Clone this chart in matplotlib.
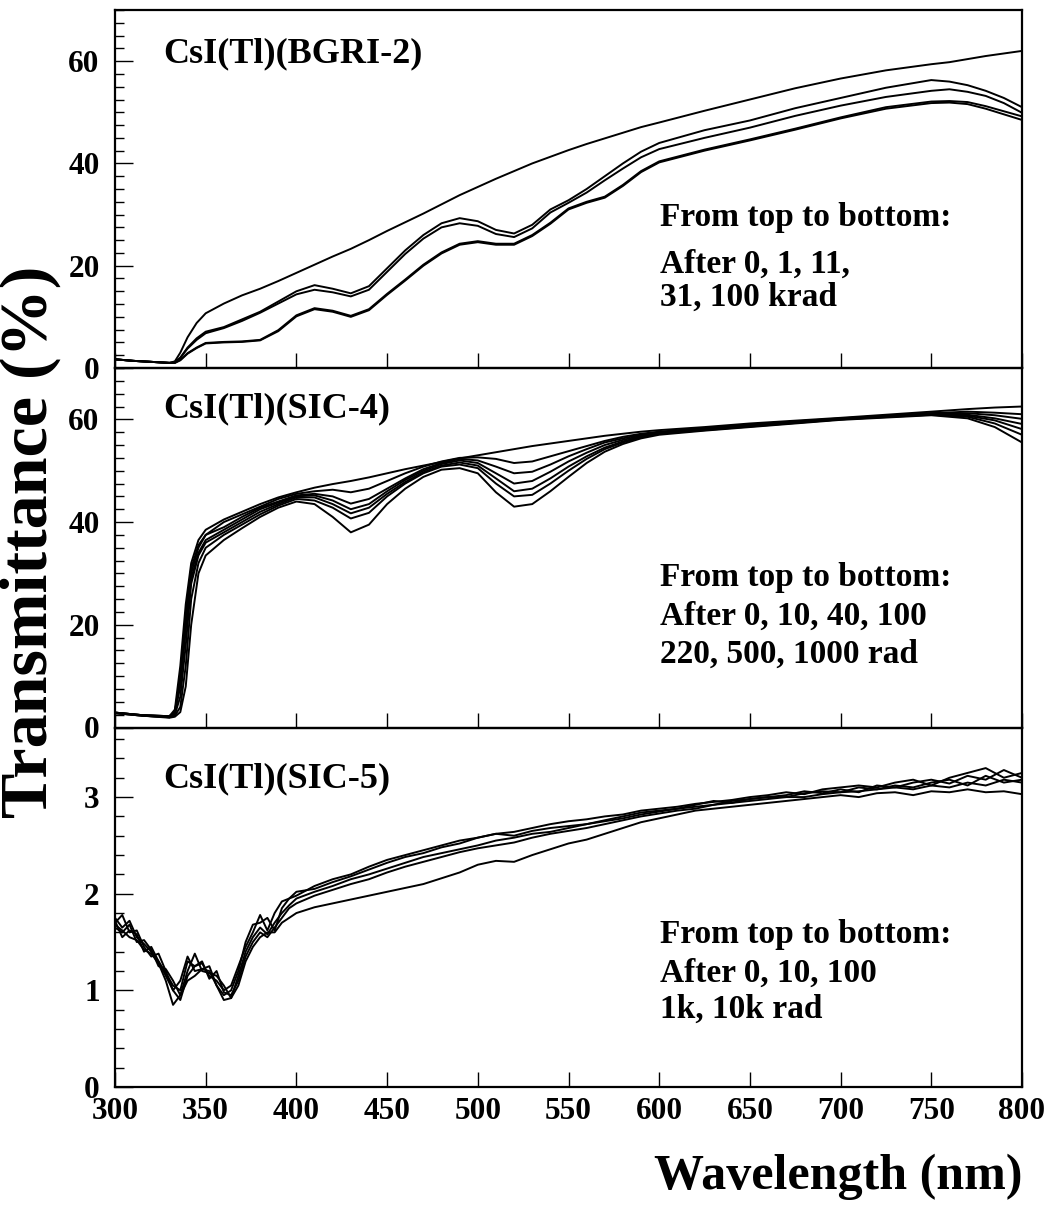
import matplotlib
matplotlib.use('Agg')
import matplotlib.pyplot as plt
from matplotlib.ticker import MultipleLocator

plt.rcParams['font.family'] = ['Liberation Serif', 'DejaVu Serif']
plt.rcParams['font.weight'] = 'bold'

# ---------------- data: top panel CsI(Tl)(BGRI-2) ----------------
wl_bgri = [300, 310, 320, 330, 333, 336, 340, 345, 350, 360, 370, 380, 390, 400, 410, 420, 430, 440,
           450, 460, 470, 480, 490, 500, 510, 520, 530, 540, 550, 560, 570, 580, 590, 600, 625, 650,
           675, 700, 725, 750, 760, 770, 780, 790, 800]
bgri_0k = [1.7, 1.4, 1.2, 1.0, 1.3, 3.0, 6.0, 8.8, 10.7, 12.6, 14.2, 15.5, 17.0, 18.6, 20.2, 21.8, 23.3, 25.0,
           26.8, 28.5, 30.2, 32.0, 33.8, 35.4, 37.0, 38.5, 40.0, 41.3, 42.6, 43.8, 44.9, 46.0, 47.1, 48.0, 50.3, 52.5,
           54.7, 56.6, 58.2, 59.4, 59.8, 60.4, 61.0, 61.5, 62.0]
bgri_1k = [1.7, 1.4, 1.2, 1.0, 1.1, 2.0, 4.0, 5.8, 7.1, 8.0, 9.5, 11.0, 13.0, 15.0, 16.2, 15.5, 14.6, 16.0,
           19.5, 23.0, 26.0, 28.3, 29.3, 28.7, 27.0, 26.3, 28.0, 31.0, 32.8, 35.0, 37.5, 40.0, 42.3, 44.0, 46.5, 48.4,
           50.8, 52.8, 54.8, 56.3, 56.0, 55.3, 54.2, 52.8, 51.0]
bgri_11k = [1.7, 1.4, 1.2, 1.0, 1.1, 2.0, 3.8, 5.5, 6.8, 7.8, 9.2, 10.8, 12.6, 14.4, 15.3, 14.8, 14.0, 15.3,
            18.8, 22.3, 25.3, 27.5, 28.3, 27.8, 26.2, 25.6, 27.3, 30.4, 32.3, 34.3, 36.7, 39.0, 41.2, 42.8, 45.0, 47.0,
            49.3, 51.3, 53.0, 54.2, 54.5, 54.0, 53.2, 51.8, 49.9]
bgri_31k = [1.7, 1.4, 1.2, 1.0, 1.0, 1.6, 2.9, 4.0, 4.9, 5.1, 5.2, 5.5, 7.4, 10.3, 11.7, 11.2, 10.2, 11.5,
            14.5, 17.3, 20.2, 22.6, 24.3, 24.8, 24.3, 24.3, 26.0, 28.4, 31.2, 32.5, 33.5, 35.8, 38.5, 40.4, 42.7, 44.7,
            46.8, 49.0, 51.0, 52.1, 52.2, 52.0, 51.2, 50.2, 49.2]
bgri_100k = [1.7, 1.4, 1.2, 1.0, 1.0, 1.5, 2.8, 3.9, 4.8, 5.0, 5.1, 5.4, 7.2, 10.1, 11.5, 11.0, 10.0, 11.3,
             14.3, 17.1, 20.0, 22.4, 24.1, 24.6, 24.1, 24.1, 25.8, 28.2, 31.0, 32.3, 33.3, 35.6, 38.3, 40.2, 42.5, 44.5,
             46.6, 48.8, 50.7, 51.8, 51.9, 51.6, 50.7, 49.6, 48.5]

# ---------------- data: middle panel CsI(Tl)(SIC-4) ----------------
wl_sic4 = [300, 315, 330, 333, 336, 339, 342, 346, 350, 360, 370, 380, 390, 400, 410, 420, 430, 440, 450, 460,
           470, 480, 490, 500, 510, 520, 530, 540, 550, 560, 570, 580, 590, 600, 625, 650, 700, 750, 770, 785, 800]
sic4_0 = [2.9, 2.4, 2.2, 3.5, 12, 24, 32, 36.5, 38.5, 40.5, 42.0, 43.5, 44.8, 45.8, 46.7, 47.4, 48.0, 48.7, 49.5, 50.3,
          51.0, 51.7, 52.4, 53.0, 53.6, 54.2, 54.8, 55.3, 55.8, 56.3, 56.8, 57.2, 57.6, 57.9, 58.5, 59.2, 60.3, 61.5, 62.0, 62.3, 62.5]
sic4_10 = [2.9, 2.4, 2.2, 3.0, 10, 22, 31, 35.5, 37.5, 40, 41.5, 43, 44.5, 45.5, 46, 46.3, 45.8, 46.5, 48, 49.5,
           50.8, 51.8, 52.5, 52.6, 52.3, 51.5, 51.8, 52.8, 53.8, 54.8, 55.8, 56.6, 57.2, 57.6, 58.3, 59.0, 60.2, 61.2, 61.5, 61.3, 61.0]
sic4_40 = [2.9, 2.4, 2.2, 3.0, 9, 20, 30, 35, 37.5, 39, 41, 42.8, 44, 45.2, 45.5, 45.0, 43.6, 44.5, 46.5, 48.5,
           50.3, 51.5, 52.3, 52.0, 50.8, 49.5, 49.8, 51.2, 52.8, 54.2, 55.5, 56.3, 57.0, 57.5, 58.2, 58.9, 60.1, 61.2, 61.2, 60.8, 60.1]
sic4_100 = [2.9, 2.4, 2.1, 2.8, 8, 19, 29, 34, 36.5, 38.5, 40.5, 42.5, 43.8, 45, 45.2, 44.2, 42.5, 43.5, 46, 48.2,
            50, 51.3, 52, 51.5, 49.5, 47.5, 48, 49.8, 51.8, 53.5, 55, 56, 56.8, 57.4, 58.1, 58.8, 60.1, 61.1, 60.9, 60.2, 59.1]
sic4_220 = [2.8, 2.3, 2.0, 2.5, 6, 16, 28, 33.5, 36, 38, 40, 42, 43.5, 44.8, 44.8, 43.5, 41.7, 42.8, 45.5, 47.8,
            49.7, 51, 51.6, 51, 48.5, 46, 46.5, 48.5, 50.8, 52.8, 54.5, 55.7, 56.6, 57.3, 58.0, 58.7, 60.0, 61.0, 60.7, 59.8, 58.1]
sic4_500 = [2.8, 2.3, 2.0, 2.3, 4, 12, 25, 32, 35, 37.5, 39.5, 41.5, 43.2, 44.5, 44.2, 42.8, 40.7, 41.8, 45, 47.5,
            49.5, 50.8, 51.2, 50.5, 47.5, 45, 45.3, 47.5, 50.0, 52.3, 54.2, 55.5, 56.5, 57.2, 57.9, 58.6, 60.0, 60.9, 60.5, 59.2, 57.0]
sic4_1000 = [2.8, 2.3, 1.9, 2.1, 3, 8, 20, 30, 33.5, 36.5, 38.8, 41, 42.8, 44, 43.5, 41, 38, 39.5, 43.5, 46.5,
             48.8, 50.2, 50.5, 49.5, 45.8, 43, 43.5, 46, 48.8, 51.5, 53.7, 55.2, 56.3, 57.0, 57.8, 58.5, 59.9, 60.8, 60.2, 58.5, 55.5]

# ---------------- data: bottom panel CsI(Tl)(SIC-5) ----------------
wl_sic5 = [300, 304, 308, 312, 316, 320, 324, 328, 332, 336, 340, 344, 348, 352, 356, 360, 364, 368, 372, 376,
           380, 384, 388, 392, 396, 400,
           410, 420, 430, 440, 450, 460, 470, 480, 490, 500, 510, 520, 530, 540, 550, 560, 570, 580, 590, 600,
           610, 620, 630, 640, 650, 660, 670, 680, 690, 700, 710, 720, 730, 740, 750, 760, 770, 780, 790, 800]
sic5_0 = [1.75, 1.65, 1.72, 1.55, 1.48, 1.40, 1.30, 1.18, 1.05, 1.00, 1.30, 1.25, 1.28, 1.15, 1.10, 1.00, 1.05, 1.25, 1.45, 1.60,
          1.78, 1.62, 1.80, 1.92, 1.95, 2.02,
          2.05, 2.12, 2.18, 2.25, 2.32, 2.38, 2.42, 2.48, 2.52, 2.58, 2.62, 2.64, 2.68, 2.72, 2.75, 2.77, 2.80, 2.82, 2.86, 2.88,
          2.90, 2.93, 2.95, 2.97, 3.00, 3.02, 3.05, 3.03, 3.08, 3.10, 3.12, 3.10, 3.15, 3.18, 3.12, 3.20, 3.25, 3.30, 3.20, 3.25]
sic5_10 = [1.70, 1.78, 1.60, 1.62, 1.45, 1.35, 1.38, 1.20, 1.00, 1.10, 1.35, 1.20, 1.22, 1.25, 1.05, 0.95, 1.00, 1.20, 1.50, 1.68,
           1.70, 1.75, 1.62, 1.85, 1.95, 1.98,
           2.08, 2.15, 2.20, 2.28, 2.35, 2.40, 2.45, 2.50, 2.55, 2.58, 2.62, 2.60, 2.65, 2.68, 2.70, 2.72, 2.76, 2.80, 2.84, 2.86,
           2.88, 2.92, 2.96, 2.94, 2.98, 3.00, 3.02, 3.06, 3.04, 3.08, 3.05, 3.12, 3.10, 3.15, 3.18, 3.14, 3.22, 3.18, 3.28, 3.20]
sic5_100 = [1.65, 1.60, 1.68, 1.50, 1.52, 1.42, 1.25, 1.22, 1.10, 0.95, 1.20, 1.38, 1.20, 1.18, 1.15, 1.05, 0.92, 1.15, 1.40, 1.55,
            1.65, 1.58, 1.70, 1.80, 1.88, 1.95,
            2.02, 2.08, 2.15, 2.20, 2.26, 2.32, 2.38, 2.42, 2.46, 2.50, 2.55, 2.58, 2.62, 2.64, 2.68, 2.72, 2.75, 2.78, 2.82, 2.85,
            2.88, 2.90, 2.92, 2.96, 2.98, 3.00, 3.00, 3.04, 3.06, 3.05, 3.10, 3.08, 3.12, 3.10, 3.15, 3.18, 3.12, 3.22, 3.15, 3.18]
sic5_1k = [1.72, 1.55, 1.62, 1.58, 1.40, 1.45, 1.30, 1.15, 1.00, 0.90, 1.15, 1.25, 1.30, 1.12, 1.20, 0.98, 0.95, 1.10, 1.35, 1.50,
           1.60, 1.55, 1.65, 1.75, 1.85, 1.90,
           1.98, 2.04, 2.10, 2.15, 2.22, 2.28, 2.33, 2.38, 2.43, 2.47, 2.50, 2.53, 2.58, 2.62, 2.65, 2.68, 2.72, 2.76, 2.80, 2.83,
           2.86, 2.88, 2.92, 2.94, 2.96, 2.98, 3.00, 3.00, 3.03, 3.05, 3.06, 3.08, 3.10, 3.08, 3.12, 3.10, 3.15, 3.12, 3.18, 3.15]
sic5_10k = [1.68, 1.62, 1.55, 1.52, 1.42, 1.38, 1.28, 1.10, 0.85, 0.95, 1.10, 1.15, 1.22, 1.20, 1.05, 0.90, 0.92, 1.05, 1.30, 1.45,
            1.55, 1.60, 1.60, 1.70, 1.75, 1.80,
            1.86, 1.90, 1.94, 1.98, 2.02, 2.06, 2.10, 2.16, 2.22, 2.30, 2.34, 2.33, 2.40, 2.46, 2.52, 2.56, 2.62, 2.68, 2.74, 2.78,
            2.82, 2.86, 2.88, 2.90, 2.92, 2.94, 2.96, 2.98, 3.00, 3.02, 3.00, 3.04, 3.05, 3.02, 3.06, 3.05, 3.08, 3.05, 3.06, 3.03]

x_ticks = [300, 350, 400, 450, 500, 550, 600, 650, 700, 750, 800]
titles = ["CsI(Tl)(BGRI-2)", "CsI(Tl)(SIC-4)", "CsI(Tl)(SIC-5)"]
notes = [["From top to bottom:", "After 0, 1, 11,", "31, 100 krad"],
         ["From top to bottom:", "After 0, 10, 40, 100", "220, 500, 1000 rad"],
         ["From top to bottom:", "After 0, 10, 100", "1k, 10k rad"]]

# ---------------- layout ----------------
W, H = 1052, 1211
fig = plt.figure(figsize=(W / 100, H / 100), dpi=100)


def box(l, t, r, b):
    return [l / W, 1 - b / H, (r - l) / W, (b - t) / H]


ax1 = fig.add_axes(box(115, 10, 1022, 368))
ax2 = fig.add_axes(box(115, 368, 1022, 727.5))
ax3 = fig.add_axes(box(115, 727.5, 1022, 1087))
axes = [ax1, ax2, ax3]

for y in [bgri_0k, bgri_1k, bgri_11k, bgri_31k, bgri_100k]:
    ax1.plot(wl_bgri, y, color='black', lw=1.4)
for y in [sic4_0, sic4_10, sic4_40, sic4_100, sic4_220, sic4_500, sic4_1000]:
    ax2.plot(wl_sic4, y, color='black', lw=1.4)
for y in [sic5_0, sic5_10, sic5_100, sic5_1k, sic5_10k]:
    ax3.plot(wl_sic5, y, color='black', lw=1.4)

ax1.set_ylim(0, 70)
ax2.set_ylim(0, 70)
ax3.set_ylim(0, 3.72)
ax1.yaxis.set_major_locator(MultipleLocator(20))
ax1.yaxis.set_minor_locator(MultipleLocator(2.5))
ax2.yaxis.set_major_locator(MultipleLocator(20))
ax2.yaxis.set_minor_locator(MultipleLocator(2.5))
ax3.yaxis.set_major_locator(MultipleLocator(1))
ax3.yaxis.set_minor_locator(MultipleLocator(0.2))

for i, ax in enumerate(axes):
    ax.set_xlim(300, 800)
    ax.set_xticks(x_ticks)
    ax.tick_params(axis='x', which='major', direction='in', length=11, width=1.0,
                   top=False, bottom=True, labelsize=22.5, pad=7)
    ax.tick_params(axis='y', which='major', direction='in', length=13, width=1.0,
                   right=False, labelsize=22.5, pad=11)
    ax.tick_params(axis='y', which='minor', direction='in', length=6.5, width=1.0, right=False)
    ax.tick_params(axis='x', which='minor', bottom=False, top=False)
    if i < 2:
        ax.tick_params(axis='x', labelbottom=False)
    for s in ax.spines.values():
        s.set_linewidth(1.6)
    ax.set_facecolor('none')
    for lab in ax.get_xticklabels() + ax.get_yticklabels():
        lab.set_fontweight('bold')

# titles
title_base = [62, 417, 787]
for t, yb in zip(titles, title_base):
    fig.text(163 / W, 1 - yb / H, t, fontsize=26, fontweight='bold', ha='left', va='baseline')

# notes
note_base = [[226, 273, 306], [586, 625, 663], [943, 982, 1018]]
for lines, bases in zip(notes, note_base):
    for line, yb in zip(lines, bases):
        fig.text(660 / W, 1 - yb / H, line, fontsize=24, fontweight='bold', ha='left', va='baseline')

# axis labels
fig.text(1022 / W, 1 - 1189 / H, "Wavelength (nm)", fontsize=36, fontweight='bold', ha='right', va='baseline')
fig.text(30 / W, 1 - 542 / H, "Transmittance (%)", fontsize=49, fontweight='bold', rotation=90,
         ha='center', va='center')

fig.savefig('out.png', dpi=100, facecolor='white')
